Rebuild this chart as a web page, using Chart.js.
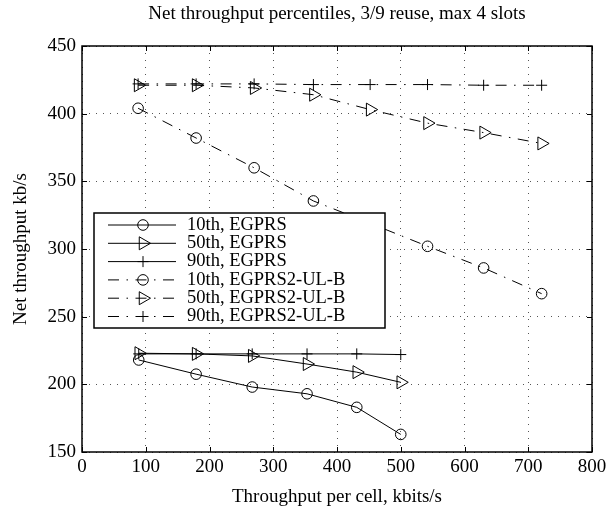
<!DOCTYPE html>
<html>
<head>
<meta charset="utf-8">
<script src="https://cdn.jsdelivr.net/npm/chart.js@4/dist/chart.umd.min.js"></script>
<style>
  html, body { margin: 0; padding: 0; background: #fff; }
  #wrap { width: 613px; height: 508px; }
</style>
</head>
<body>
<div id="wrap"><canvas id="myChart" width="613" height="508"></canvas></div>
<script>
// x values (throughput per cell, kbits/s)
const loadEgprs = [89, 179, 267, 353, 431, 500];
const loadEgprs2 = [88, 179, 270, 363, 452, 542, 630, 721];

// net throughput percentiles, kb/s
const p10Egprs = [218, 207.5, 198, 193, 183, 163];
const p50Egprs = [223, 222.5, 221, 215, 209, 201.5];
const p90Egprs = [222.5, 222.5, 222.5, 222.5, 222.5, 222];
const p10Egprs2 = [404, 382, 360, 335.5, 319, 302, 286, 267];
const p50Egprs2 = [421, 421, 419, 414, 403, 393, 386, 378];
const p90Egprs2 = [422, 422, 422, 421.5, 421.5, 421.5, 421, 421];

const xTicks = [0, 100, 200, 300, 400, 500, 600, 700, 800];
const yTicks = [150, 200, 250, 300, 350, 400, 450];

const FONT = "'Liberation Serif', 'Times New Roman', serif";
const DASHDOT = [11, 7.5, 1.5, 7.5];

function pts(xs, ys) {
    return xs.map((x, i) => ({ x: x, y: ys[i] }));
}

function series(label, xs, ys, style, dashed) {
    return {
        label: label,
        data: pts(xs, ys),
        borderColor: '#000',
        borderWidth: 1,
        borderDash: dashed ? DASHDOT : [],
        pointStyle: style,
        pointRotation: style === 'triangle' ? 90 : 0,
        pointRadius: style === 'triangle' ? 7.5 : (style === 'cross' ? 5.5 : 5.3),
        pointBorderColor: '#000',
        pointBorderWidth: 1,
        pointBackgroundColor: 'rgba(0,0,0,0)',
        tension: 0,
        fill: false
    };
}

// marker for the hand drawn legend
function marker(ctx, style, x, y) {
    ctx.setLineDash([]);
    ctx.beginPath();
    if (style === 'circle') {
        ctx.arc(x, y, 5.3, 0, Math.PI * 2);
    } else if (style === 'triangle') {
        const r = 7.5;
        ctx.moveTo(x + r, y);
        ctx.lineTo(x - r / 2, y - r * 0.866);
        ctx.lineTo(x - r / 2, y + r * 0.866);
        ctx.closePath();
    } else {
        ctx.moveTo(x - 5.5, y); ctx.lineTo(x + 5.5, y);
        ctx.moveTo(x, y - 5.5); ctx.lineTo(x, y + 5.5);
    }
    ctx.stroke();
}

const matlabBox = {
    id: 'matlabBox',
    afterDatasetsDraw(chart) {
        const { ctx, chartArea: a, scales } = chart;
        ctx.save();
        ctx.strokeStyle = '#000';
        ctx.lineWidth = 1;

        // inward tick marks on all four sides
        ctx.beginPath();
        scales.x.ticks.forEach(t => {
            const px = Math.round(scales.x.getPixelForValue(t.value)) + 0.5;
            ctx.moveTo(px, a.bottom); ctx.lineTo(px, a.bottom - 5);
            ctx.moveTo(px, a.top); ctx.lineTo(px, a.top + 5);
        });
        scales.y.ticks.forEach(t => {
            const py = Math.round(scales.y.getPixelForValue(t.value)) + 0.5;
            ctx.moveTo(a.left, py); ctx.lineTo(a.left + 5, py);
            ctx.moveTo(a.right, py); ctx.lineTo(a.right - 5, py);
        });
        ctx.stroke();

        ctx.lineWidth = 1.5;
        ctx.strokeRect(a.left, a.top, a.right - a.left, a.bottom - a.top);

        // legend box inside the axes
        const lx = a.left + 12, ly = a.top + 167, lw = 291, lh = 115;
        ctx.fillStyle = '#fff';
        ctx.fillRect(lx, ly, lw, lh);
        ctx.strokeRect(lx, ly, lw, lh);

        ctx.font = '18.5px ' + FONT;
        ctx.textBaseline = 'middle';
        ctx.textAlign = 'left';
        chart.data.datasets.forEach((ds, i) => {
            const cy = ly + 12 + i * 18.3;
            ctx.lineWidth = 1;
            ctx.setLineDash(ds.borderDash);
            ctx.beginPath();
            ctx.moveTo(lx + 14, cy);
            ctx.lineTo(lx + 82, cy);
            ctx.stroke();
            marker(ctx, ds.pointStyle, lx + 49, cy);
            ctx.fillStyle = '#000';
            ctx.fillText(ds.label, lx + 93, cy);
        });
        ctx.restore();
    }
};

const context = document.getElementById('myChart').getContext('2d');

new Chart(context, {
    type: 'line',
    data: {
        datasets: [
            series('10th, EGPRS', loadEgprs, p10Egprs, 'circle', false),
            series('50th, EGPRS', loadEgprs, p50Egprs, 'triangle', false),
            series('90th, EGPRS', loadEgprs, p90Egprs, 'cross', false),
            series('10th, EGPRS2-UL-B', loadEgprs2, p10Egprs2, 'circle', true),
            series('50th, EGPRS2-UL-B', loadEgprs2, p50Egprs2, 'triangle', true),
            series('90th, EGPRS2-UL-B', loadEgprs2, p90Egprs2, 'cross', true)
        ]
    },
    options: {
        responsive: false,
        animation: false,
        events: [],
        layout: { padding: { left: 0, right: 21, top: 0, bottom: 0 } },
        plugins: {
            legend: { display: false },
            tooltip: { enabled: false },
            title: {
                display: true,
                fullSize: false,
                text: 'Net throughput percentiles, 3/9 reuse, max 4 slots',
                color: '#000',
                font: { family: FONT, size: 19, weight: 'normal', lineHeight: 1.2 },
                padding: { top: 3, bottom: 20.2 }
            }
        },
        scales: {
            x: {
                type: 'linear',
                min: 0,
                max: 800,
                afterBuildTicks: s => { s.ticks = xTicks.map(v => ({ value: v })); },
                afterFit: s => { s.height = 56; },
                ticks: { color: '#000', padding: 4, font: { family: FONT, size: 19 } },
                grid: { color: '#555', drawTicks: false, lineWidth: 1 },
                border: { display: false, dash: [1, 6] },
                title: {
                    display: true,
                    text: 'Throughput per cell, kbits/s',
                    color: '#000',
                    font: { family: FONT, size: 19 },
                    padding: { top: 0, bottom: 0 }
                }
            },
            y: {
                type: 'linear',
                min: 150,
                max: 450,
                afterBuildTicks: s => { s.ticks = yTicks.map(v => ({ value: v })); },
                afterFit: s => { s.width = 82; },
                ticks: { color: '#000', padding: 6, font: { family: FONT, size: 19 } },
                grid: { color: '#555', drawTicks: false, lineWidth: 1 },
                border: { display: false, dash: [1, 6] },
                title: {
                    display: true,
                    text: 'Net throughput kb/s',
                    color: '#000',
                    font: { family: FONT, size: 19 },
                    padding: { top: 10, bottom: 0 }
                }
            }
        }
    },
    plugins: [matlabBox]
});
</script>
</body>
</html>
